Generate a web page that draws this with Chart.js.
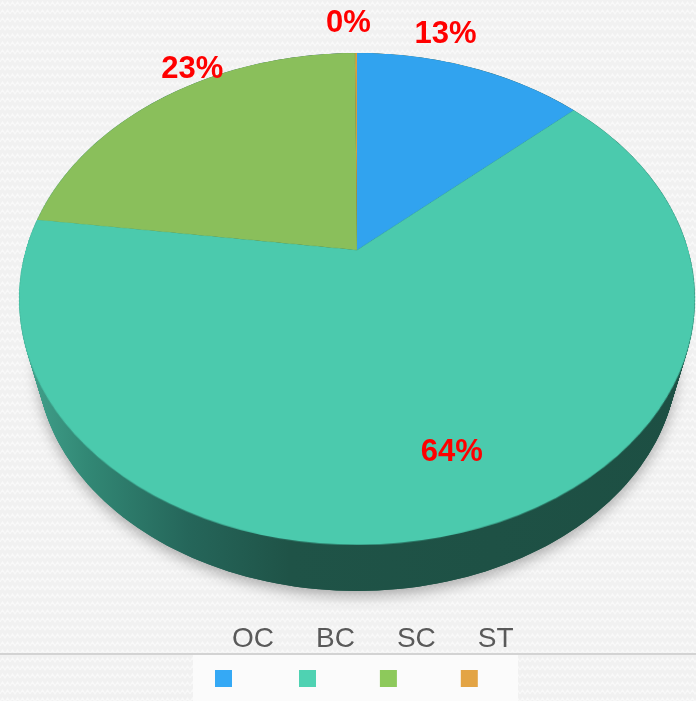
<!DOCTYPE html>
<html><head><meta charset="utf-8">
<script src="https://cdn.jsdelivr.net/npm/chart.js@4.4.1/dist/chart.umd.min.js"></script>
<style>html,body{margin:0;padding:0;background:#f2f2f2;overflow:hidden}canvas{display:block}</style>
</head><body>
<canvas id="c" width="696" height="701" style="width:696px;height:701px"></canvas>
<script>
// ---- data ----
const categories = ['OC', 'BC', 'SC', 'ST'];
const shares = [13.3, 63.8, 22.8, 0.1];
const sliceColors = ['#31a3ef', '#4bcaad', '#8abf5b', '#dd9c3e'];
const legendColors = ['#35a9f5', '#4fd2b2', '#8dc95b', '#e3a444'];

// ---- view (perspective tilt of the pie) ----
const VIEW = { cx: 357, cy: 250, A: 331.2, B: 236.2, t: -0.1992, shrink: 0.948, drop: 61.3 };
// label placement: angle offset from slice middle (deg) and radial factor
const LABEL_POS = [[-7.8, 1.177], [-1.4, 0.765], [8.7, 1.089], [-1.35, 1.2]];

function project(u, s) {
  const w = 1 + VIEW.t * s;
  return { x: VIEW.cx + VIEW.A * u / w, y: VIEW.cy + VIEW.B * s / w, w: w };
}
function rimPoint(th) { return project(Math.sin(th), -Math.cos(th)); }

function drawBackground(ctx, W, H) {
  const p = document.createElement('canvas');
  p.width = 10; p.height = 8;
  const pc = p.getContext('2d');
  pc.fillStyle = '#f1f1f1'; pc.fillRect(0, 0, 10, 8);
  pc.strokeStyle = 'rgba(255,255,255,0.55)'; pc.lineWidth = 1.2;
  pc.beginPath();
  pc.moveTo(0, 6); pc.lineTo(2.5, 2); pc.lineTo(5, 6); pc.lineTo(7.5, 2); pc.lineTo(10, 6);
  pc.stroke();
  ctx.fillStyle = ctx.createPattern(p, 'repeat');
  ctx.fillRect(0, 0, W, H);
}

function rimPath(ctx, f) {
  const k = 1 - (1 - VIEW.shrink) * f, N = 240;
  ctx.beginPath();
  for (let i = 0; i <= N; i++) {
    const p = rimPoint(2 * Math.PI * i / N);
    const x = VIEW.cx + (p.x - VIEW.cx) * k;
    const y = VIEW.cy + (p.y - VIEW.cy) * k + VIEW.drop * f;
    if (i === 0) ctx.moveTo(x, y); else ctx.lineTo(x, y);
  }
  ctx.closePath();
}

const tiltPlugin = {
  id: 'tilt',
  afterDatasetsDraw(chart) {
    const ctx = chart.ctx, W = chart.width, H = chart.height;
    const meta = chart.getDatasetMeta(0);
    const arc0 = meta.data[0];
    const sx = arc0.x, sy = arc0.y, R = arc0.outerRadius;
    const tmp = document.createElement('canvas');
    tmp.width = chart.canvas.width; tmp.height = chart.canvas.height;
    tmp.getContext('2d').drawImage(chart.canvas, 0, 0);

    ctx.save();
    ctx.setTransform(1, 0, 0, 1, 0, 0);
    ctx.clearRect(0, 0, W, H);
    drawBackground(ctx, W, H);

    // side wall of the pie (sweep from top rim down to the receding bottom rim)
    const left = VIEW.cx - 338, right = VIEW.cx + 338;
    const g = ctx.createLinearGradient(left, 0, right, 0);
    g.addColorStop(0, '#43a48e');
    g.addColorStop(0.1, '#328875');
    g.addColorStop(0.25, '#25665a');
    g.addColorStop(0.4, '#1f5347');
    g.addColorStop(1, '#1d4f43');
    ctx.fillStyle = g;
    ctx.shadowColor = 'rgba(0,0,0,0.30)';
    ctx.shadowBlur = 14;
    ctx.shadowOffsetY = 5;
    rimPath(ctx, 1); ctx.fill();
    ctx.shadowColor = 'transparent';
    ctx.shadowBlur = 0; ctx.shadowOffsetY = 0;
    for (let j = 0; j <= 40; j++) { rimPath(ctx, j / 40); ctx.fill(); }

    // warped top face
    const sOf = (y) => { const d = y - VIEW.cy; return d / (VIEW.B - VIEW.t * d); };
    const top = Math.floor(VIEW.cy - VIEW.B / (1 - VIEW.t)) - 1;
    const bot = Math.ceil(VIEW.cy + VIEW.B / (1 + VIEW.t)) + 1;
    ctx.imageSmoothingEnabled = true;
    for (let Y = top; Y < bot; Y++) {
      const s0 = sOf(Y), s1 = sOf(Y + 1);
      if (s1 < -1 || s0 > 1) continue;
      const sm = sOf(Y + 0.5);
      const srcY = sy + s0 * R, srcH = (s1 - s0) * R;
      const sc = VIEW.A / (R * (1 + VIEW.t * sm));
      const dx = VIEW.cx - sx * sc;
      ctx.drawImage(tmp, 0, srcY, tmp.width, srcH, dx, Y, tmp.width * sc, 1);
    }

    // percentage labels
    const total = shares.reduce((a, b) => a + b, 0);
    ctx.font = 'bold 31px "Liberation Sans", Arial, sans-serif';
    ctx.fillStyle = '#ff0000';
    ctx.textAlign = 'center';
    ctx.textBaseline = 'alphabetic';
    meta.data.forEach((arc, i) => {
      const mid = (arc.startAngle + arc.endAngle) / 2 + Math.PI / 2;
      const th = mid + LABEL_POS[i][0] * Math.PI / 180;
      const r = LABEL_POS[i][1];
      const p = project(r * Math.sin(th), -r * Math.cos(th));
      const txt = Math.round(shares[i] / total * 100) + '%';
      ctx.fillText(txt, p.x, p.y + 11);
    });

    // legend
    ctx.fillStyle = '#d3d3d3';
    ctx.fillRect(0, 653, W, 2);
    ctx.fillStyle = '#fbfbfb';
    ctx.fillRect(193, 655, 325, H - 655);
    ctx.font = '28px "Liberation Sans", Arial, sans-serif';
    ctx.textAlign = 'left';
    let x = 215;
    categories.forEach((lab, i) => {
      ctx.fillStyle = legendColors[i];
      ctx.fillRect(x, 670, 17, 17);
      ctx.fillStyle = '#595959';
      ctx.fillText(lab, x + 17, 647);
      x += 17 + ctx.measureText(lab).width + 25;
    });
    ctx.restore();
  }
};

new Chart(document.getElementById('c'), {
  type: 'pie',
  data: {
    labels: categories,
    datasets: [{ data: shares, backgroundColor: sliceColors, borderWidth: 0 }]
  },
  options: {
    responsive: false,
    animation: false,
    events: [],
    layout: { padding: 0 },
    plugins: { legend: { display: false }, tooltip: { enabled: false } }
  },
  plugins: [tiltPlugin]
});
</script>
</body></html>
